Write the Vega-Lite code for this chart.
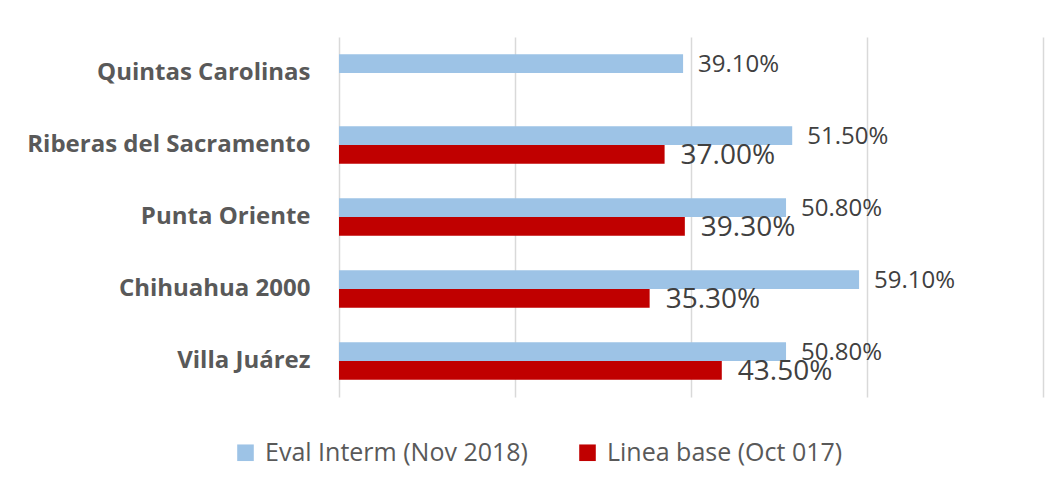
{
  "$schema": "https://vega.github.io/schema/vega-lite/v6.json",
  "autosize": {"type": "none"},
  "width": 704,
  "height": 360,
  "padding": {"left": 339, "top": 37, "right": 17, "bottom": 94},
  "background": "white",
  "config": {"view": {"stroke": null}, "font": "Open Sans"},
  "data": {"values": [
    {"site": "Quintas Carolinas", "series": "Eval Interm (Nov 2018)", "value": 0.391},
    {"site": "Riberas del Sacramento", "series": "Eval Interm (Nov 2018)", "value": 0.515},
    {"site": "Riberas del Sacramento", "series": "Linea base (Oct 017)", "value": 0.37},
    {"site": "Punta Oriente", "series": "Eval Interm (Nov 2018)", "value": 0.508},
    {"site": "Punta Oriente", "series": "Linea base (Oct 017)", "value": 0.393},
    {"site": "Chihuahua 2000", "series": "Eval Interm (Nov 2018)", "value": 0.591},
    {"site": "Chihuahua 2000", "series": "Linea base (Oct 017)", "value": 0.353},
    {"site": "Villa Juárez", "series": "Eval Interm (Nov 2018)", "value": 0.508},
    {"site": "Villa Juárez", "series": "Linea base (Oct 017)", "value": 0.435}
  ]},
  "encoding": {
    "y": {
      "field": "site", "type": "nominal",
      "sort": ["Quintas Carolinas", "Riberas del Sacramento", "Punta Oriente", "Chihuahua 2000", "Villa Juárez"],
      "scale": {"paddingInner": 0.48, "paddingOuter": 0.24},
      "axis": {"title": null, "domain": false, "ticks": false, "labelPadding": 29, "labelFont": "Open Sans", "labelFontWeight": "bold", "labelFontSize": 24, "labelColor": "#595959", "labelLimit": 400}
    },
    "yOffset": {"field": "series", "type": "nominal", "sort": ["Eval Interm (Nov 2018)", "Linea base (Oct 017)"]},
    "x": {
      "field": "value", "type": "quantitative",
      "scale": {"domain": [0, 0.8], "nice": false},
      "axis": {"title": null, "values": [0, 0.2, 0.4, 0.6, 0.8], "labels": false, "ticks": false, "domain": false, "grid": true, "gridColor": "#D9D9D9", "gridWidth": 1.5}
    }
  },
  "layer": [
    {
      "mark": {"type": "bar"},
      "encoding": {
        "color": {
          "field": "series", "type": "nominal",
          "scale": {"domain": ["Eval Interm (Nov 2018)", "Linea base (Oct 017)"], "range": ["#9DC3E6", "#C00000"]},
          "legend": {"title": null, "orient": "none", "direction": "horizontal", "legendX": -106, "legendY": 403, "symbolType": "square", "symbolSize": 275, "symbolStrokeWidth": 0, "labelFont": "Open Sans", "labelFontSize": 25, "labelColor": "#595959", "labelOffset": 7, "columnPadding": 47, "labelLimit": 400}
        }
      }
    },
    {
      "transform": [{"filter": "datum.series === 'Eval Interm (Nov 2018)'"}],
      "mark": {"type": "text", "align": "left", "baseline": "middle", "dx": 15, "dy": 1, "fontSize": 24, "color": "#404040", "font": "Open Sans"},
      "encoding": {"text": {"field": "value", "format": ".2%"}}
    },
    {
      "transform": [{"filter": "datum.series === 'Linea base (Oct 017)'"}],
      "mark": {"type": "text", "align": "left", "baseline": "middle", "dx": 16, "dy": 2, "fontSize": 28, "color": "#404040", "font": "Open Sans"},
      "encoding": {"text": {"field": "value", "format": ".2%"}}
    }
  ]
}
